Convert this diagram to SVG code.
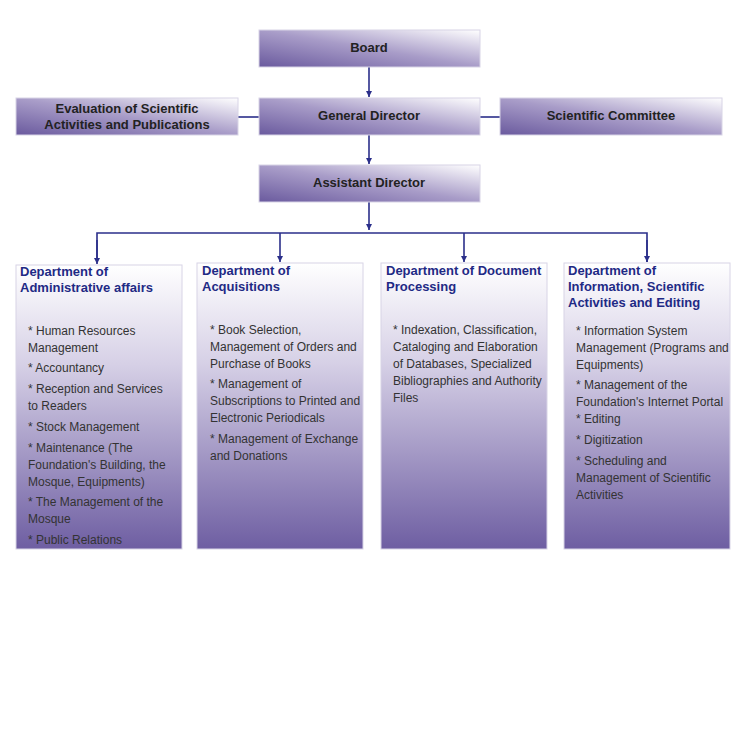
<svg xmlns="http://www.w3.org/2000/svg" width="740" height="740" viewBox="0 0 740 740">
<style>
.top{fill:url(#gt);stroke:#d8d4e6;stroke-width:1}
.dep{fill:url(#gd);stroke:#d8d4e6;stroke-width:1}
.tt{font-family:"Liberation Sans",Arial,sans-serif;font-size:13px;font-weight:bold;fill:#222;text-anchor:middle}
.dt{font-family:"Liberation Sans",Arial,sans-serif;font-size:13px;font-weight:bold;fill:#1f2a85}
.bt{font-family:"Liberation Sans",Arial,sans-serif;font-size:12px;fill:#333}
.ln{stroke:#2b2f8a;stroke-width:1.6;fill:none}
</style>
<defs>
<linearGradient id="gt" x1="0" y1="1" x2="1" y2="0">
<stop offset="0" stop-color="#6a5a9e"/><stop offset="0.5" stop-color="#a89cc8"/><stop offset="1" stop-color="#ffffff"/>
</linearGradient>
<linearGradient id="gd" x1="0" y1="0" x2="0" y2="1">
<stop offset="0" stop-color="#ffffff"/><stop offset="0.35" stop-color="#d6d0e6"/><stop offset="1" stop-color="#6e5ea2"/>
</linearGradient>
<marker id="ar" viewBox="0 0 10 10" refX="10" refY="5" markerWidth="6" markerHeight="7" orient="auto" markerUnits="userSpaceOnUse">
<path d="M0,0 L10,5 L0,10 z" fill="#2b2f8a"/>
</marker>
</defs>
<g id="connectors">
<line class="ln" x1="369" y1="67" x2="369" y2="97" marker-end="url(#ar)"/>
<line class="ln" x1="369" y1="135" x2="369" y2="164" marker-end="url(#ar)"/>
<line class="ln" x1="238" y1="117" x2="259" y2="117"/>
<line class="ln" x1="480" y1="117" x2="500" y2="117"/>
<line class="ln" x1="369" y1="202" x2="369" y2="230" marker-end="url(#ar)"/>
<polyline class="ln" points="97,262 97,233 647,233 647,262"/>
<line class="ln" x1="97" y1="240" x2="97" y2="264" marker-end="url(#ar)"/>
<line class="ln" x1="280" y1="233" x2="280" y2="262" marker-end="url(#ar)"/>
<line class="ln" x1="464" y1="233" x2="464" y2="262" marker-end="url(#ar)"/>
<line class="ln" x1="647" y1="240" x2="647" y2="262" marker-end="url(#ar)"/>
</g>
<g id="board"><rect class="top" x="259" y="30" width="221" height="37"/><text class="tt" x="369" y="52">Board</text></g>
<g id="general-director"><rect class="top" x="259" y="98" width="221" height="37"/><text class="tt" x="369" y="120">General Director</text></g>
<g id="evaluation"><rect class="top" x="16" y="98" width="222" height="37"/><text class="tt" x="127" y="113">Evaluation of Scientific</text><text class="tt" x="127" y="129">Activities and Publications</text></g>
<g id="scientific-committee"><rect class="top" x="500" y="98" width="222" height="37"/><text class="tt" x="611" y="120">Scientific Committee</text></g>
<g id="assistant-director"><rect class="top" x="259" y="165" width="221" height="37"/><text class="tt" x="369" y="187">Assistant Director</text></g>
<g id="dept-admin"><rect class="dep" x="16" y="265" width="166" height="284"/>
<text class="dt" x="20" y="276">Department of</text><text class="dt" x="20" y="292">Administrative affairs</text>
<text class="bt" x="28" y="335">* Human Resources</text><text class="bt" x="28" y="352">Management</text>
<text class="bt" x="28" y="372">* Accountancy</text>
<text class="bt" x="28" y="393">* Reception and Services</text><text class="bt" x="28" y="410">to Readers</text>
<text class="bt" x="28" y="431">* Stock Management</text>
<text class="bt" x="28" y="452">* Maintenance (The</text><text class="bt" x="28" y="469">Foundation's Building, the</text><text class="bt" x="28" y="486">Mosque, Equipments)</text>
<text class="bt" x="28" y="506">* The Management of the</text><text class="bt" x="28" y="523">Mosque</text>
<text class="bt" x="28" y="544">* Public Relations</text>
</g>
<g id="dept-acq"><rect class="dep" x="197" y="263" width="166" height="286"/>
<text class="dt" x="202" y="275">Department of</text><text class="dt" x="202" y="291">Acquisitions</text>
<text class="bt" x="210" y="334">* Book Selection,</text><text class="bt" x="210" y="351">Management of Orders and</text><text class="bt" x="210" y="368">Purchase of Books</text>
<text class="bt" x="210" y="388">* Management of</text><text class="bt" x="210" y="405">Subscriptions to Printed and</text><text class="bt" x="210" y="422">Electronic Periodicals</text>
<text class="bt" x="210" y="443">* Management of Exchange</text><text class="bt" x="210" y="460">and Donations</text>
</g>
<g id="dept-doc"><rect class="dep" x="381" y="263" width="166" height="286"/>
<text class="dt" x="386" y="275">Department of Document</text><text class="dt" x="386" y="291">Processing</text>
<text class="bt" x="393" y="334">* Indexation, Classification,</text><text class="bt" x="393" y="351">Cataloging and Elaboration</text><text class="bt" x="393" y="368">of Databases, Specialized</text><text class="bt" x="393" y="385">Bibliographies and Authority</text><text class="bt" x="393" y="402">Files</text>
</g>
<g id="dept-info"><rect class="dep" x="564" y="263" width="166" height="286"/>
<text class="dt" x="568" y="275">Department of</text><text class="dt" x="568" y="291">Information, Scientific</text><text class="dt" x="568" y="307">Activities and Editing</text>
<text class="bt" x="576" y="335">* Information System</text><text class="bt" x="576" y="352">Management (Programs and</text><text class="bt" x="576" y="369">Equipments)</text>
<text class="bt" x="576" y="389">* Management of the</text><text class="bt" x="576" y="406">Foundation's Internet Portal</text>
<text class="bt" x="576" y="423">* Editing</text>
<text class="bt" x="576" y="444">* Digitization</text>
<text class="bt" x="576" y="465">* Scheduling and</text><text class="bt" x="576" y="482">Management of Scientific</text><text class="bt" x="576" y="499">Activities</text>
</g>
</svg>
